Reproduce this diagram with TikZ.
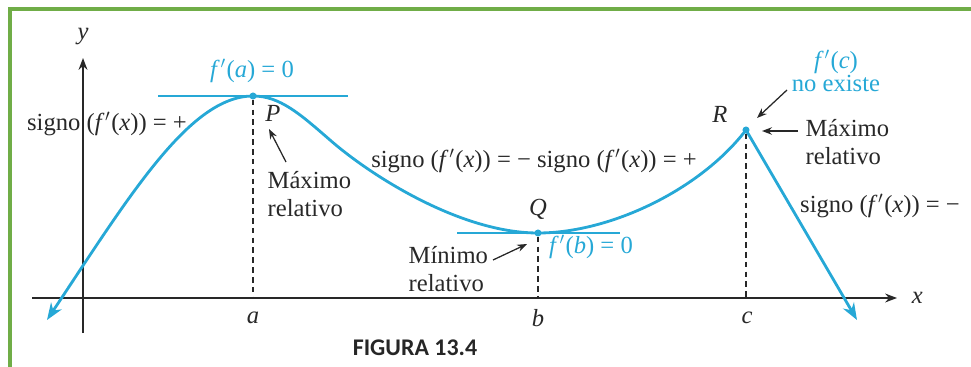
\documentclass[tikz,border=0pt]{standalone}
\usepackage{fontspec}
\setmainfont{Liberation Serif}
\newfontfamily\figfont{Carlito}
\usetikzlibrary{arrows.meta, positioning}
\definecolor{mycyan}{RGB}{38,168,214}
\definecolor{mygreen}{RGB}{112,173,71}
\definecolor{mydark}{RGB}{40,40,40}
\newcommand{\fpr}[1]{\textit{f}\kern0.5pt$'$\kern0.5pt(\textit{#1})}
\tikzset{
  curve/.style={mycyan, line width=2pt},
  tangent/.style={mycyan, line width=1.1pt},
  axis/.style={-Stealth, mydark, line width=1.2pt},
  guide/.style={dash pattern=on 4pt off 3pt, mydark, line width=0.9pt},
  callout/.style={-Stealth, mydark, line width=0.9pt},
  lbl/.style={font=\fontsize{17.5}{20}\selectfont, text=mydark, inner sep=1pt},
  cyanlbl/.style={lbl, text=mycyan},
  dot/.style={circle, fill=mycyan, inner sep=0pt, minimum size=5pt}
}

\begin{document}
\begin{tikzpicture}[x=0.025cm, y=-0.025cm]
  \useasboundingbox (0,0) rectangle (971,367);
  % frame
  \draw[mygreen, line width=3pt] (10,400) -- (10,9) -- (1000,9);

  % axes
  \coordinate (O) at (83,298);
  \draw[axis] (32,298) -- (897,298) node[right=9pt, lbl] (xlbl) {\textit{x}};
  \draw[axis] (83,333) -- (83,58) node[above=8pt, lbl] (ylbl) {\textit{y}};

  % extrema
  \node[dot] (P) at (253,96) {};
  \node[dot] (Q) at (538,233) {};
  \node[dot] (R) at (746,130) {};

  % tangents
  \draw[tangent] (158,96) -- (348,96);
  \draw[tangent] (457,233) -- (620,233);

  % curve
  \coordinate (start) at (47,320);
  \coordinate (stop) at (857,320);
  \draw[curve, Stealth-] (start) .. controls (130,195) and (190,96) .. (P.center)
    .. controls (280,96) and (300,114) .. (330,140)
    .. controls (370,175) and (460,233) .. (Q.center)
    .. controls (610,233) and (700,190) .. (R.center);
  \draw[curve, -Stealth] (R.center) -- (stop);

  % guides
  \draw[guide] (P) -- (P |- O);
  \draw[guide] (Q) -- (Q |- O);
  \draw[guide] (R) -- (R |- O);

  % tick labels
  \node[lbl] (a) at (253,318) {\textit{a}};
  \node[lbl] (b) at (538,318) {\textit{b}};
  \node[lbl] (c) at (747,318) {\textit{c}};

  % point labels
  \node[lbl] (Plbl) at (273,113) {\textit{P}};
  \node[lbl] (Qlbl) at (538,209) {\textit{Q}};
  \node[lbl] (Rlbl) at (720,114) {\textit{R}};
  \node[cyanlbl] (fa) at (252,71) {\fpr{a} = 0};
  \node[cyanlbl] (fb) at (591,247) {\fpr{b} = 0};
  \node[cyanlbl, align=center, font=\fontsize{17.5}{16}\selectfont] (fc) at (836,71) {\fpr{c}\\no existe};

  % signs
  \node[lbl] (sign1) at (107,124) {signo (\fpr{x}) = +};
  \node[lbl] (sign2) at (534,161) {signo (\fpr{x}) = − signo (\fpr{x}) = +};
  \node[lbl] (sign3) at (880,206) {signo (\fpr{x}) = −};

  % callouts
  \node[lbl, align=left, anchor=west] (maxP) at (266,194) {Máximo\\relativo};
  \node[lbl, align=left, anchor=west] (minQ) at (407,269) {Mínimo\\relativo};
  \node[lbl, align=left, anchor=west] (maxR) at (804,142) {Máximo\\relativo};
  \coordinate (maxPtail) at (286,162);
  \coordinate (maxPtip) at (269,129);
  \coordinate (minQtail) at (493,260);
  \coordinate (minQtip) at (527,244);
  \coordinate (maxRtail) at (798,131);
  \coordinate (maxRtip) at (762,131);
  \coordinate (fctail) at (787,90);
  \coordinate (fctip) at (757,118);
  \draw[callout] (maxPtail) -- (maxPtip);
  \draw[callout] (minQtail) -- (minQtip);
  \draw[callout] (maxRtail) -- (maxRtip);
  \draw[callout] (fctail) -- (fctip);

  % caption
  \node[font=\figfont\bfseries\fontsize{17}{19}\selectfont, text=black!85] (cap) at (415,348) {FIGURA 13.4};
\end{tikzpicture}
\end{document}
